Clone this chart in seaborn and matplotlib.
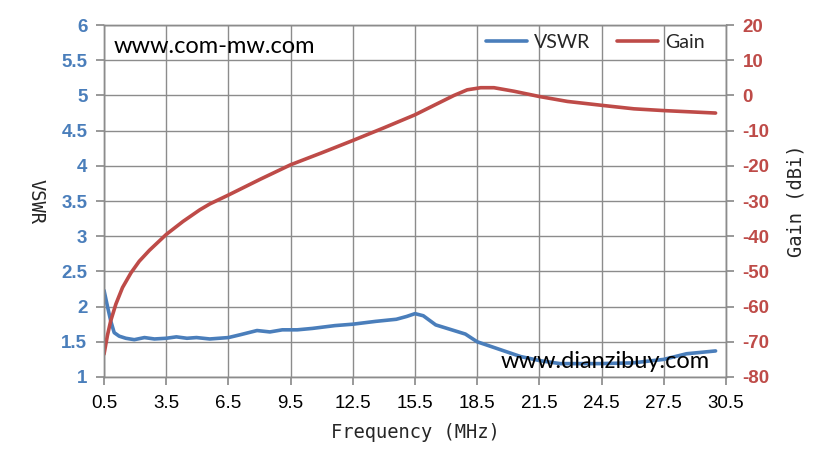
import matplotlib
matplotlib.use("Agg")
import matplotlib.pyplot as plt
import seaborn as sns
import pandas as pd

sns.set_theme(style="white")
plt.rcParams['font.family'] = ['Liberation Sans', 'DejaVu Sans']

# Data
vswr_freq = [0.5, 0.66, 0.82, 0.99, 1.23, 1.55, 1.96, 2.45, 2.93, 3.5, 3.99, 4.5, 4.96,
             5.6, 6.5, 7.07, 7.88, 8.5, 9.1, 9.82, 10.55, 11.64, 12.5, 13.6, 14.6,
             15.1, 15.5, 15.9, 16.5, 17.93, 18.5, 19.6, 20.6, 21.56, 22.5, 24.4,
             26.0, 27.5, 28.6, 30.0]
vswr_vals = [2.23, 2.01, 1.80, 1.63, 1.58, 1.55, 1.53, 1.56, 1.54, 1.55, 1.57, 1.55, 1.56,
             1.54, 1.56, 1.60, 1.66, 1.64, 1.67, 1.67, 1.69, 1.73, 1.75, 1.79, 1.82,
             1.86, 1.90, 1.87, 1.74, 1.61, 1.50, 1.39, 1.29, 1.23, 1.19, 1.19,
             1.20, 1.25, 1.33, 1.37]

gain_freq = [0.5, 0.66, 0.82, 1.07, 1.39, 1.80, 2.20, 2.69, 3.5, 4.31, 5.12, 5.61, 6.5, 8.04,
             9.5, 11.0, 12.5, 14.0, 15.5, 16.42, 17.38, 18.02, 18.67, 19.31, 20.27,
             21.5, 22.85, 24.5, 26.06, 27.5, 30.0]
gain_vals = [-73.5, -68.3, -64.1, -59.3, -54.6, -50.4, -47.1, -44.0, -39.5, -35.8, -32.5, -30.8,
             -28.3, -23.8, -19.7, -16.3, -12.8, -9.2, -5.5, -2.8, 0.0, 1.6, 2.2, 2.2, 1.2,
             -0.3, -1.7, -2.8, -3.8, -4.3, -5.0]

x_ticks = [0.5, 3.5, 6.5, 9.5, 12.5, 15.5, 18.5, 21.5, 24.5, 27.5, 30.5]
vswr_ticks = [1, 1.5, 2, 2.5, 3, 3.5, 4, 4.5, 5, 5.5, 6]
gain_ticks = [-80, -70, -60, -50, -40, -30, -20, -10, 0, 10, 20]

blue = "#4A7EBB"
red = "#BE4B48"
grid_c = "#8C8C8C"

df_v = pd.DataFrame({"Frequency": vswr_freq, "VSWR": vswr_vals})
df_g = pd.DataFrame({"Frequency": gain_freq, "Gain": gain_vals})

fig = plt.figure(figsize=(8.27, 4.73), dpi=100)
ax = fig.add_axes([0.1258, 0.203, 0.752, 0.744])
ax2 = ax.twinx()

sns.lineplot(data=df_v, x="Frequency", y="VSWR", ax=ax, color=blue, linewidth=2.6,
             label="VSWR", legend=False, solid_joinstyle="round", solid_capstyle="round")
sns.lineplot(data=df_g, x="Frequency", y="Gain", ax=ax2, color=red, linewidth=2.6,
             label="Gain", legend=False, solid_joinstyle="round", solid_capstyle="round")

ax.set_xlim(0.5, 30.5)
ax.set_ylim(1, 6)
ax2.set_ylim(-80, 20)
ax.set_xticks(x_ticks)
ax.set_xticklabels([str(t) for t in x_ticks])
ax.set_yticks(vswr_ticks)
ax.set_yticklabels([f"{t:g}" for t in vswr_ticks])
ax2.set_yticks(gain_ticks)
ax2.set_yticklabels([str(t) for t in gain_ticks])

ax.grid(True, color=grid_c, linewidth=1.0)
ax.set_axisbelow(True)
for sp in list(ax.spines.values()) + list(ax2.spines.values()):
    sp.set_color(grid_c)
    sp.set_linewidth(1.0)

ax.tick_params(axis='x', which='both', bottom=True, length=6, color=grid_c, labelsize=13.5,
               labelcolor="black", pad=7)
ax.tick_params(axis='y', left=True, length=6, color=grid_c, labelsize=13.5, labelcolor=blue, pad=6)
ax2.tick_params(axis='y', right=True, length=6, color=grid_c, labelsize=13.5, labelcolor=red, pad=6)
for lbl in ax.get_yticklabels():
    lbl.set_fontweight('bold')
for lbl in ax2.get_yticklabels():
    lbl.set_fontweight('bold')

mono = ['DejaVu Sans Mono']
ax.set_xlabel("Frequency (MHz)", fontsize=13.5, family=mono, labelpad=8)
ax.set_ylabel("VSWR", fontsize=13.5, family=mono, rotation=-90, labelpad=18, va="center")
ax2.set_ylabel("Gain (dBi)", fontsize=13.5, family=mono, rotation=90, labelpad=12)

h1, l1 = ax.get_legend_handles_labels()
h2, l2 = ax2.get_legend_handles_labels()
ax2.legend(h1 + h2, l1 + l2, loc="upper right", bbox_to_anchor=(0.972, 0.985), ncol=2, frameon=False,
           borderaxespad=0, borderpad=0.2,
           prop={'family': ['Lato', 'DejaVu Sans'], 'size': 14},
           handlelength=2.1, columnspacing=1.4, handletextpad=0.35)

ax.text(0.015, 0.94, "www.com-mw.com", transform=ax.transAxes, fontsize=17, color="black",
        ha="left", va="center", family=['Lato', 'DejaVu Sans'])
ax.text(0.974, 0.045, "www.dianzibuy.com", transform=ax.transAxes, fontsize=17, color="black",
        ha="right", va="center", family=['Lato', 'DejaVu Sans'], zorder=5)

fig.savefig("out.png", dpi=100)
